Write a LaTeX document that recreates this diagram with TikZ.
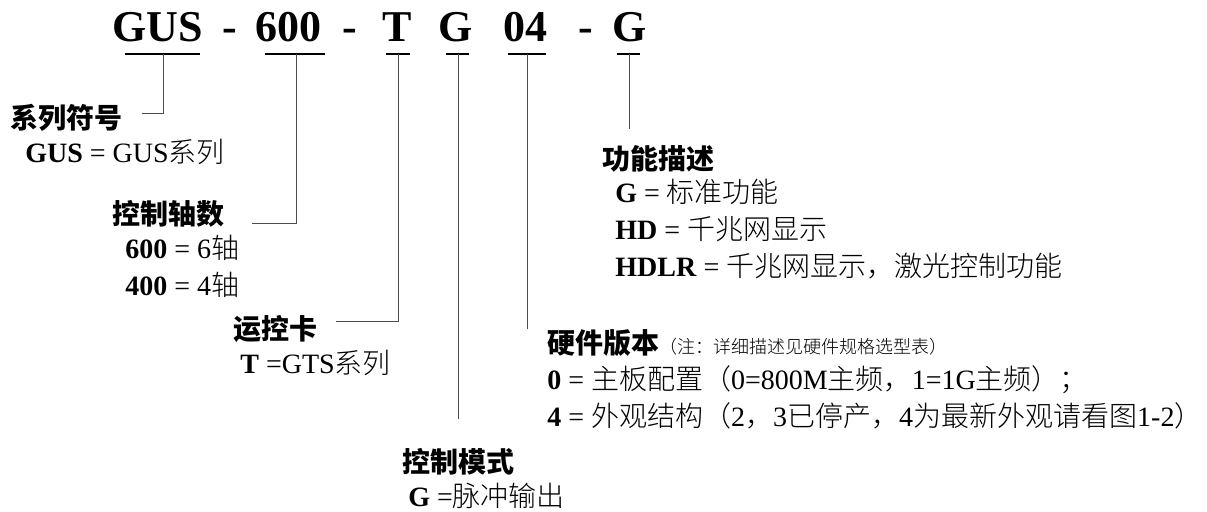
\documentclass[tikz,border=0pt]{standalone}
\usepackage{fontspec}
\setmainfont{Liberation Serif}
\newfontfamily\cjk{Noto Sans CJK SC}
\newfontfamily\cjklight{Noto Sans CJK SC Light}
\newcommand{\zh}[1]{{\cjklight\mdseries #1}}
\usetikzlibrary{positioning}

\begin{document}
\begin{tikzpicture}
    [
        x=0.5pt, y=-0.5pt,
        code_node/.style={inner sep=0pt, anchor=base, font=\fontsize{22}{26}\selectfont\bfseries},
        head_node/.style={inner sep=0pt, anchor=base west, font=\fontsize{14}{16}\selectfont\cjk\bfseries},
        body_node/.style={inner sep=0pt, anchor=base west, font=\fontsize{14}{16}\selectfont},
        under_line/.style={line width=0.75pt, color=black},
        lead_line/.style={line width=0.5pt, color=black!70},
    ]
        \useasboundingbox (0,0) rectangle (1207,512);
        % model code
        \node[code_node] (gus) at (157.5,42) {GUS};
        \node[code_node] (dash1) at (229.5,42) {-};
        \node[code_node] (n600) at (288.5,42) {600};
        \node[code_node] (dash2) at (350,42) {-};
        \node[code_node] (t) at (397.5,42) {T};
        \node[code_node] (g1) at (456,42) {G};
        \node[code_node] (n04) at (525.5,42) {04};
        \node[code_node] (dash3) at (586,42) {-};
        \node[code_node] (g2) at (630,42) {G};
        \foreach \a/\b/\c/\n in {125/200/163/sys, 265/325/296/axes, 386/410/398/card, 446/469/458/mode, 508/546/527/hw, 617/640/629/func}
        {
            \draw[under_line] (\a,54) -- (\b,54);
            \coordinate (\n_top) at (\c,54);
        }
        % labels
        \node[head_node] (sys) at (10,129) {系列符号};
        \node[body_node] (sys_gus) at (25,163) {\textbf{GUS} = GUS\zh{系列}};
        \node[head_node] (axes) at (112,225) {控制轴数};
        \node[body_node] (axes_6) at (125,259) {\textbf{600} = 6\zh{轴}};
        \node[body_node] (axes_4) at (125,296) {\textbf{400} = 4\zh{轴}};
        \node[head_node] (card) at (233,340) {运控卡};
        \node[body_node] (card_t) at (240,374) {\textbf{T} =GTS\zh{系列}};
        \node[head_node] (mode) at (402,473) {控制模式};
        \node[body_node] (mode_g) at (408,507) {\textbf{G} =\zh{脉冲输出}};
        \node[head_node] (func) at (602,170) {功能描述};
        \node[body_node] (func_g) at (615,203) {\textbf{G} = \zh{标准功能}};
        \node[body_node] (func_hd) at (615,240) {\textbf{HD} = \zh{千兆网显示}};
        \node[body_node] (func_hdlr) at (615,277) {\textbf{HDLR} = \zh{千兆网显示，激光控制功能}};
        \node[head_node] (hw) at (547,354) {硬件版本{\fontsize{9}{11}\selectfont\zh{（注：详细描述见硬件规格选型表）}}};
        \node[body_node] (hw_0) at (547,390) {\textbf{0} = \zh{主板配置（}0=800M\zh{主频，}1=1G\zh{主频）；}};
        \node[body_node] (hw_4) at (547,427) {\textbf{4} = \zh{外观结构（}2\zh{，}3\zh{已停产，}4\zh{为最新外观请看图}1-2\zh{）}};
        % leads
        \coordinate (sys_end) at (142,114);
        \coordinate (axes_end) at (252,224);
        \coordinate (card_end) at (336,322);
        \coordinate (mode_end) at (458,419);
        \coordinate (hw_end) at (527,329);
        \coordinate (func_end) at (629,129);
        \draw[lead_line] (sys_top) |- (sys_end);
        \draw[lead_line] (axes_top) |- (axes_end);
        \draw[lead_line] (card_top) |- (card_end);
        \draw[lead_line] (mode_top) -- (mode_end);
        \draw[lead_line] (hw_top) -- (hw_end);
        \draw[lead_line] (func_top) -- (func_end);
    \end{tikzpicture}
\end{document}
